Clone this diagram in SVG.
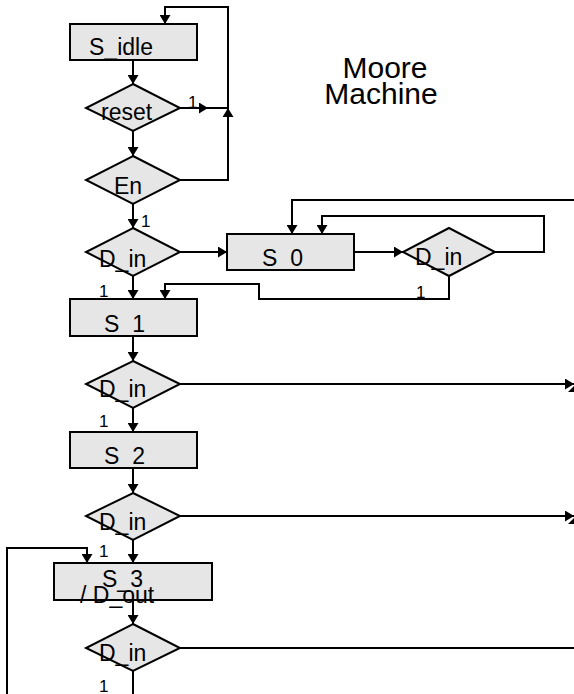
<svg xmlns="http://www.w3.org/2000/svg" width="574" height="694" viewBox="0 0 574 694">
<style>
.n{fill:#e6e6e6;stroke:#000;stroke-width:2}
.c{fill:none;stroke:#000;stroke-width:2}
.t{font-family:"Liberation Sans",Arial,sans-serif;font-size:23px;fill:#000}
.l{font-family:"Liberation Sans",Arial,sans-serif;font-size:17px;fill:#000}
.h{font-family:"Liberation Sans",Arial,sans-serif;font-size:30px;fill:#000;text-anchor:middle}
</style>
<defs>
<marker id="a" viewBox="0 0 9 11" refX="9" refY="5.5" markerWidth="9" markerHeight="11" markerUnits="userSpaceOnUse" orient="auto">
<path d="M0,0 L9,5.5 L0,11 z" fill="#000"/>
</marker>
</defs>
<rect width="574" height="694" fill="#fff"/>
<g id="connectors">
<path class="c" d="M133,60 V84" marker-end="url(#a)"/>
<path class="c" d="M133,131 V156" marker-end="url(#a)"/>
<path class="c" d="M180,108 H208" marker-end="url(#a)"/>
<path class="c" d="M207,108 H228"/>
<path class="c" d="M180,180 H228 V108" marker-end="url(#a)"/>
<path class="c" d="M228,109 V7 H165 V24" marker-end="url(#a)"/>
<path class="c" d="M133,204 V228" marker-end="url(#a)"/>
<path class="c" d="M180,252 H227" marker-end="url(#a)"/>
<path class="c" d="M354,252 H403" marker-end="url(#a)"/>
<path class="c" d="M495,252 H544 V216 H322 V234" marker-end="url(#a)"/>
<path class="c" d="M574,200 H292 V234" marker-end="url(#a)"/>
<path class="c" d="M449,276 V299 H259 V284 H165 V299" marker-end="url(#a)"/>
<path class="c" d="M133,276 V299" marker-end="url(#a)"/>
<path class="c" d="M133,336 V361" marker-end="url(#a)"/>
<path class="c" d="M180,384 H574" marker-end="url(#a)"/>
<polygon points="574,386 574,392 568,392" fill="#000"/>
<path class="c" d="M133,408 V432" marker-end="url(#a)"/>
<path class="c" d="M133,468 V493" marker-end="url(#a)"/>
<path class="c" d="M180,516 H574" marker-end="url(#a)"/>
<polygon points="574,518 574,524 568,524" fill="#000"/>
<path class="c" d="M133,540 V563" marker-end="url(#a)"/>
<path class="c" d="M7,694 V548 H87 V563" marker-end="url(#a)"/>
<path class="c" d="M133,600 V624" marker-end="url(#a)"/>
<path class="c" d="M180,648 H574"/>
<path class="c" d="M133,671 V694"/>
</g>
<g id="S_idle"><rect class="n" x="70" y="24" width="127" height="36"/><text class="t" x="89" y="55">S_idle</text></g>
<g id="reset"><polygon class="n" points="133,84 180,108 133,131 86,108"/><text class="t" x="101" y="120">reset</text></g>
<g id="En"><polygon class="n" points="133,156 180,180 133,204 86,180"/><text class="t" x="114" y="194">En</text></g>
<g id="D_in1"><polygon class="n" points="133,228 180,252 133,276 86,252"/><text class="t" x="99" y="267">D_in</text></g>
<g id="S_0"><rect class="n" x="227" y="234" width="127" height="36"/><text class="t" x="262" y="266">S_0</text></g>
<g id="D_in2"><polygon class="n" points="449,228 495,252 449,276 403,252"/><text class="t" x="415" y="265">D_in</text></g>
<g id="S_1"><rect class="n" x="70" y="299" width="127" height="37"/><text class="t" x="104" y="332">S_1</text></g>
<g id="D_in3"><polygon class="n" points="133,361 180,384 133,408 86,384"/><text class="t" x="99" y="397">D_in</text></g>
<g id="S_2"><rect class="n" x="70" y="432" width="127" height="36"/><text class="t" x="104" y="464">S_2</text></g>
<g id="D_in4"><polygon class="n" points="133,493 180,516 133,540 86,516"/><text class="t" x="99" y="530">D_in</text></g>
<g id="S_3"><rect class="n" x="54" y="563" width="158" height="37"/><text class="t" x="102" y="587">S_3</text><text class="t" x="80" y="603">/ D_out</text></g>
<g id="D_in5"><polygon class="n" points="133,624 180,648 133,671 86,648"/><text class="t" x="99" y="661">D_in</text></g>
<g id="labels">
<text class="l" x="188" y="108">1</text>
<text class="l" x="141" y="227">1</text>
<text class="l" x="99" y="297">1</text>
<text class="l" x="416" y="298">1</text>
<text class="l" x="99" y="427">1</text>
<text class="l" x="99" y="557">1</text>
<text class="l" x="99" y="692">1</text>
</g>
<g id="title"><text class="h" x="385" y="78">Moore</text><text class="h" x="381" y="104">Machine</text></g>
</svg>
